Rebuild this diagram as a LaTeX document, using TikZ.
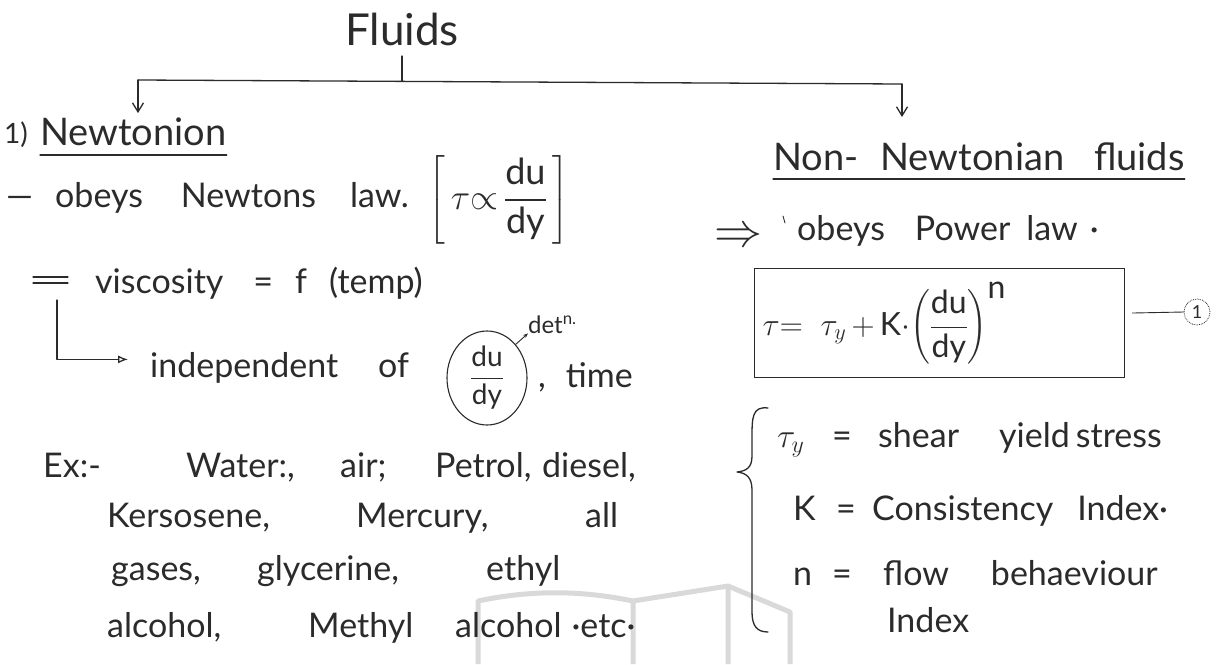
\RequirePackage{fix-cm}
\documentclass[tikz,border=0pt]{standalone}
\usepackage{amsmath}
\usepackage{fontspec}
\setmainfont{Lato}
\usetikzlibrary{arrows.meta,shapes.geometric}

\definecolor{ink}{HTML}{2B2B2B}
\definecolor{wmgray}{HTML}{D9D9D9}

% handwritten-style fraction with a firm bar
\newcommand{\hfrac}[2]{\genfrac{}{}{1.1pt}{0}{\textnormal{#1}}{\textnormal{#2}}}

\tikzset{
  hw/.style={font=\fontsize{34}{40}\selectfont, text=ink, inner sep=0pt, anchor=base west},
  head/.style={hw, font=\fontsize{38}{44}\selectfont},
  note/.style={hw, font=\fontsize{24}{28}\selectfont},
  pen/.style={draw=ink, line width=1.3pt, line cap=round, line join=round},
  hair/.style={draw=ink, line width=0.9pt, line cap=round},
  down/.style={pen, -{Straight Barb[length=9pt,width=11pt]}},
  wm/.style={draw=wmgray, line width=5pt, line join=round},
}

\begin{document}
\begin{tikzpicture}[x=1pt,y=-1pt]
\path[use as bounding box, fill=white] (0,0) rectangle (1217,664);

% faint book mark along the bottom edge
\draw[wm] (478,664) -- (478,601) .. controls (530,590) and (580,590) .. (633,601) -- (633,664);
\draw[wm] (633,601) -- (728,586) -- (728,664);
\draw[wm] (728,586) -- (790,612) -- (790,664);

% title and the split into two classes
\node[head, anchor=base, font=\fontsize{44}{50}\selectfont] (fluids) at (402,45) {Fluids};
\coordinate (stem) at (402,56);
\coordinate (split) at (402,81);
\coordinate (lcorner) at (138,80);
\coordinate (rcorner) at (902,84);
\coordinate (rtip) at (902,117);
\draw[pen] (stem) -- (split);
\draw[pen] (lcorner) -- (rcorner);

% ---------------- Newtonian column ----------------
\node[hw, font=\fontsize{28}{30}\selectfont] (num) at (4,143) {1)};
\node[head] (newt) at (40,145) {Newtonion};
\draw[pen] ([yshift=-10pt]newt.base west) -- ([yshift=-10pt]newt.base east);
\draw[down, shorten >=4pt] (lcorner) -- (lcorner |- newt.north);

\node[hw] (dash) at (6,207) {—};
\node[hw] (obeys) at (55,207) {obeys\hspace{38pt}Newtons\hspace{34pt}law.};
\node[hw, anchor=west, font=\fontsize{36}{40}\selectfont] (prop) at (428,200)
  {$\left[\,\tau{\propto}\,\hfrac{du}{dy}\,\right]$};

\draw[pen] (33,277) -- (68,277);
\draw[pen] (33,283) -- (68,283);
\node[hw] (visc) at (95,293) {viscosity\hspace{30pt}=\hspace{22pt}f\hspace{22pt}(temp)};

\node[hw] (indep) at (150,377) {independent\hspace{40pt}of};
\draw[pen, -{Latex[open,length=10pt,width=8pt]}, shorten >=22pt] (57,300) |- ([yshift=8pt]indep.west);
\node[hw, font=\fontsize{28}{32}\selectfont, draw=ink, line width=1.1pt, ellipse,
      minimum width=80pt, minimum height=94pt, anchor=center] (rate) at (487,378) {$\hfrac{du}{dy}$};
\node[hw] (time) at (538,387) {,\hspace{20pt}time};
\node[note] (detn) at (528,333) {det\textsuperscript{n.}};
\draw[hair, -{Stealth[length=5pt,width=4pt]}] (rate.north east) -- (detn.south west);

% examples
\node[hw] (ex)    at (43,477)  {Ex:-};
\node[hw] (ex1)   at (186,477) {Water:,};
\node[hw] (ex2)   at (340,477) {air;};
\node[hw] (ex3)   at (435,477) {Petrol,};
\node[hw] (ex4)   at (542,477) {diesel,};
\node[hw] (ex5)   at (107,527) {Kersosene,};
\node[hw] (ex6)   at (356,527) {Mercury,};
\node[hw] (ex7)   at (585,527) {all};
\node[hw] (ex8)   at (111,580) {gases,};
\node[hw] (ex9)   at (257,580) {glycerine,};
\node[hw] (ex10)  at (486,580) {ethyl};
\node[hw] (ex11)  at (107,637) {alcohol,};
\node[hw] (ex12)  at (308,637) {Methyl};
\node[hw] (ex13)  at (455,637) {alcohol\hspace{10pt}·etc·};

% ---------------- Non-Newtonian column ----------------
\node[head] (nonnewt) at (773,170) {Non-\hspace{22pt}Newtonian\hspace{30pt}fluids};
\draw[pen] ([yshift=-9pt]nonnewt.base west) -- ([yshift=-9pt]nonnewt.base east);
\draw[down] (rcorner) -- (rtip);

\node[hw, font=\fontsize{48}{50}\selectfont] (impl) at (714,246) {$\Rightarrow$};
\draw[hair] (783,216) -- (785,223);
\node[hw] (power) at (797,240) {obeys\hspace{30pt}Power\hspace{16pt}law\hspace{12pt}·};

\node[hw, draw=ink, line width=1.3pt, anchor=north west, text width=354pt,
      minimum height=109pt, inner xsep=8pt, align=left,
      font=\fontsize{32}{38}\selectfont] (plaw) at (754,268)
  {$\tau{=}\;\;\tau_y\,{+}\,\textnormal{K}{\cdot}\!\left(\hfrac{du}{dy}\right)^{\mbox{n}}$};
\node[hw, draw=ink, densely dotted, line width=0.8pt, circle, minimum size=26pt,
      anchor=center, font=\fontsize{18}{20}\selectfont] (eqno) at (1197,312) {1};
\draw[hair, shorten <=7pt] ([yshift=10pt]plaw.east) -- (eqno.west);

% brace gathering the symbol meanings
\draw[pen] (768,408) .. controls (752,406) and (752,418) .. (752,438) -- (752,456)
  .. controls (752,468) and (746,471) .. (737,472)
  .. controls (746,473) and (752,477) .. (752,490) -- (752,612)
  .. controls (752,626) and (757,632) .. (768,632);

\node[hw] (tauy) at (777,447) {$\tau_y$};
\node[hw] (eqa)  at (832,447) {=};
\node[hw] (ystr) at (878,447) {shear\hspace{40pt}yield\hspace{6pt}stress};
\node[hw] (kk)   at (793,520) {K};
\node[hw] (eqb)  at (836,520) {=};
\node[hw] (cons) at (872,520) {Consistency\hspace{24pt}Index·};
\node[hw] (nn)   at (793,585) {n};
\node[hw] (eqc)  at (832,585) {=};
\node[hw] (flow) at (883,585) {flow\hspace{42pt}behaeviour};
\node[hw] (idx)  at (887,632) {Index};
\end{tikzpicture}
\end{document}
